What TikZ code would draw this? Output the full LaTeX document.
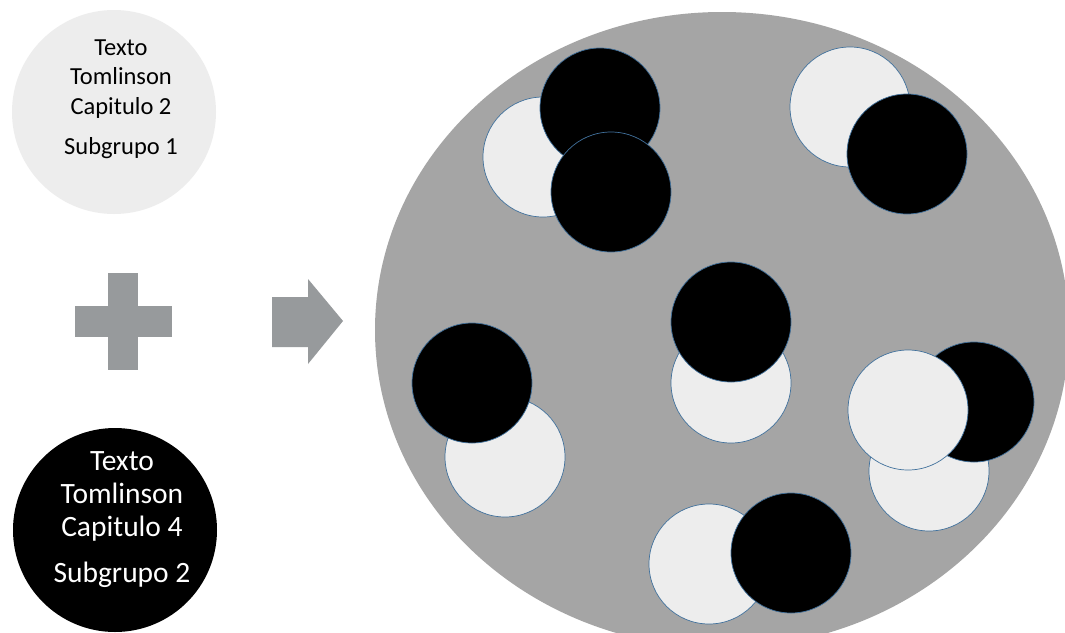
\documentclass[tikz,border=0pt]{standalone}
\usepackage{fontspec}
\setmainfont{Carlito}
\usepackage{xcolor}
\usetikzlibrary{positioning}

\definecolor{fondo}{HTML}{A5A5A5}
\definecolor{claro}{HTML}{EDEDED}
\definecolor{signo}{HTML}{979A9C}
\definecolor{borde}{HTML}{41719C}

\begin{document}
\begin{tikzpicture}[
  x=1pt, y=-1pt,
  grupo/.style={circle, minimum size=204pt, inner sep=0pt},
  rotulo/.style={align=center, font=\fontsize{24.5}{29.5}\selectfont},
  piedra/.style={circle, minimum size=120pt, inner sep=0pt, draw=borde, line width=0.7pt},
]
\useasboundingbox (0,0) rectangle (1065,632);
\fill[white] (0,0) rectangle (1065,632);

% subgrupos
\node[grupo, fill=claro] (sub1) at (114,112) {};
\node[rotulo] (sub1txt) at (121,99) {Texto\\Tomlinson\\Capitulo 2\\[11pt]Subgrupo 1};
\node[grupo, fill=black] (sub2) at (115,530) {};
\node[rotulo, text=white, font=\fontsize{29.5}{33}\selectfont] (sub2txt) at (122,520) {Texto\\Tomlinson\\Capitulo 4\\[13pt]Subgrupo 2};

% signos
\fill[signo] (108,273) rectangle (138,370);
\fill[signo] (75,306) rectangle (172,337);
\fill[signo] (272,297) -- (308,297) -- (308,279) -- (343,321) -- (308,364) -- (308,347) -- (272,347) -- cycle;

% grupo mezclado
\fill[fondo] (722,330) ellipse [x radius=347, y radius=318];

\foreach \x/\y/\c [count=\i] in {543/157/claro, 600/108/black, 611/192/black,
  850/107/claro, 907/154/black,
  505/457/claro, 472/383/black,
  731/383/claro, 731/322/black,
  709/564/claro, 791/553/black,
  929/471/claro, 974/402/black, 908/410/claro} {
  \node[piedra, fill=\c] (p\i) at (\x,\y) {};
}

\end{tikzpicture}
\end{document}
